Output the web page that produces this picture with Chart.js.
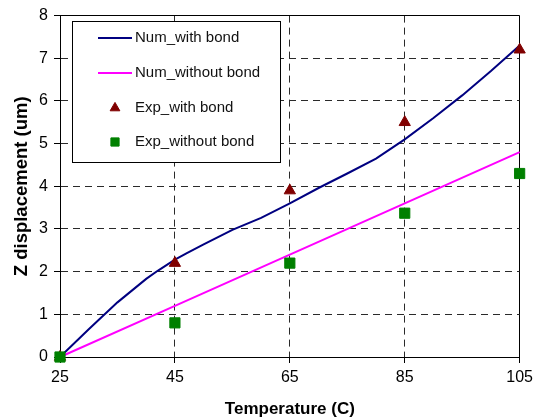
<!DOCTYPE html>
<html>
<head>
<meta charset="utf-8">
<script src="https://cdn.jsdelivr.net/npm/chart.js@4/dist/chart.umd.min.js"></script>
<style>
  html, body { margin: 0; padding: 0; background: #fff; }
  #wrap { width: 538px; height: 420px; }
</style>
</head>
<body>
<div id="wrap"><canvas id="zChart" width="538" height="420"></canvas></div>
<script>
// values
const numTemps = [25, 30, 35, 40, 42, 45, 47, 50, 55, 60, 65, 70, 75, 80, 85, 90, 95, 100, 105];
const numWithBond = [0, 0.65, 1.28, 1.83, 2.02, 2.28, 2.43, 2.64, 2.98, 3.26, 3.6, 3.96, 4.3, 4.65, 5.1, 5.6, 6.13, 6.7, 7.3];
const numNoBondTemps = [25, 45, 65, 85, 105];
const numWithoutBond = [0, 1.2, 2.4, 3.6, 4.8];
const expTemps = [25, 45, 65, 85, 105];
const expWithBond = [0, 2.2, 3.9, 5.5, 7.2];
const expWithoutBond = [0, 0.8, 2.2, 3.37, 4.3];
const xTicks = [25, 45, 65, 85, 105];
const yTicks = [0, 1, 2, 3, 4, 5, 6, 7, 8];

const seriesNames = ["Num_with bond", "Num_without bond", "Exp_with bond", "Exp_without bond"];

const FONT = "'Liberation Sans', Arial, sans-serif";

function pts(xs, ys) {
  return xs.map((x, i) => ({x: x, y: ys[i]}));
}

const data = {
  datasets: [
    {
      label: seriesNames[0],
      data: pts(numTemps, numWithBond),
      showLine: true,
      borderColor: "#000080",
      borderWidth: 2,
      pointRadius: 0,
      tension: 0,
      clip: false,
      order: 3
    },
    {
      label: seriesNames[1],
      data: pts(numNoBondTemps, numWithoutBond),
      showLine: true,
      borderColor: "#ff00ff",
      borderWidth: 2,
      pointRadius: 0,
      tension: 0,
      clip: false,
      order: 2
    },
    {
      label: seriesNames[2],
      data: pts(expTemps, expWithBond),
      showLine: false,
      pointStyle: "triangle",
      pointRadius: 6.5,
      backgroundColor: "#800000",
      borderColor: "#800000",
      borderWidth: 1,
      clip: false,
      order: 1
    },
    {
      label: seriesNames[3],
      data: pts(expTemps, expWithoutBond),
      showLine: false,
      pointStyle: "rect",
      pointRadius: 7.2,
      backgroundColor: "#008000",
      borderColor: "#008000",
      borderWidth: 1,
      clip: false,
      order: 0
    }
  ]
};

// boxed legend inside the plot, like the original
const boxLegend = {
  id: "boxLegend",
  afterDraw(chart) {
    const ctx = chart.ctx;
    const bx = 72.5, by = 21.5, bw = 208, bh = 141;
    ctx.save();
    ctx.setLineDash([]);
    ctx.fillStyle = "#fff";
    ctx.fillRect(bx, by, bw, bh);
    ctx.strokeStyle = "#000";
    ctx.lineWidth = 1;
    ctx.strokeRect(bx, by, bw, bh);
    const rows = [38, 73, 108, 142];
    ctx.font = "15px " + FONT;
    ctx.textBaseline = "middle";
    chart.data.datasets.forEach((ds, i) => {
      const y = rows[i];
      if (ds.showLine) {
        ctx.strokeStyle = ds.borderColor;
        ctx.lineWidth = 2;
        ctx.beginPath();
        ctx.moveTo(98, y);
        ctx.lineTo(132, y);
        ctx.stroke();
      } else {
        ctx.fillStyle = ds.backgroundColor;
        ctx.strokeStyle = ds.borderColor;
        ctx.lineWidth = 1;
        Chart.helpers.drawPoint(ctx, {pointStyle: ds.pointStyle, radius: ds.pointStyle === "rect" ? 5.8 : 5.6, borderWidth: 1, rotation: 0}, 115, y);
      }
      ctx.fillStyle = "#111";
      ctx.fillText(ds.label, 135, y);
    });
    ctx.restore();
  }
};

// last grid line of each axis is the solid black frame edge
function isLast(c) {
  return c.tick && c.index === c.scale.ticks.length - 1;
}

const gridOpts = {
  color: (c) => isLast(c) ? "#000" : "#2a2a2a",
  lineWidth: 1,
  tickLength: 6,
  tickColor: "#000",
  tickBorderDash: []
};
const borderOpts = {
  display: true,
  color: "#000",
  width: 1,
  dash: (c) => isLast(c) ? [] : [7, 5]
};

const config = {
  type: "scatter",
  data: data,
  options: {
    responsive: false,
    animation: false,
    layout: {padding: {left: 0, right: 13, top: 14, bottom: 0}},
    plugins: {
      legend: {display: false},
      tooltip: {enabled: false}
    },
    scales: {
      x: {
        type: "linear",
        min: xTicks[0],
        max: xTicks[xTicks.length - 1],
        afterBuildTicks: (s) => { s.ticks = xTicks.map(v => ({value: v})); },
        afterFit: (s) => { s.height = 63; },
        ticks: {
          autoSkip: false,
          maxRotation: 0,
          padding: 5,
          color: "#000",
          font: {family: FONT, size: 16}
        },
        grid: gridOpts,
        border: borderOpts,
        title: {
          display: true,
          text: "Temperature (C)",
          color: "#000",
          font: {family: FONT, size: 17, weight: "bold"},
          padding: {top: 4, bottom: 0}
        }
      },
      y: {
        min: yTicks[0],
        max: yTicks[yTicks.length - 1],
        afterBuildTicks: (s) => { s.ticks = yTicks.map(v => ({value: v})); },
        afterFit: (s) => { s.width = 60; },
        ticks: {
          autoSkip: false,
          padding: 6,
          color: "#000",
          font: {family: FONT, size: 16}
        },
        grid: gridOpts,
        border: borderOpts,
        title: {
          display: true,
          text: "Z displacement (um)",
          color: "#000",
          font: {family: FONT, size: 18.5, weight: "bold"},
          padding: {top: 11, bottom: 0}
        }
      }
    }
  },
  plugins: [boxLegend]
};

new Chart(document.getElementById("zChart"), config);
</script>
</body>
</html>
